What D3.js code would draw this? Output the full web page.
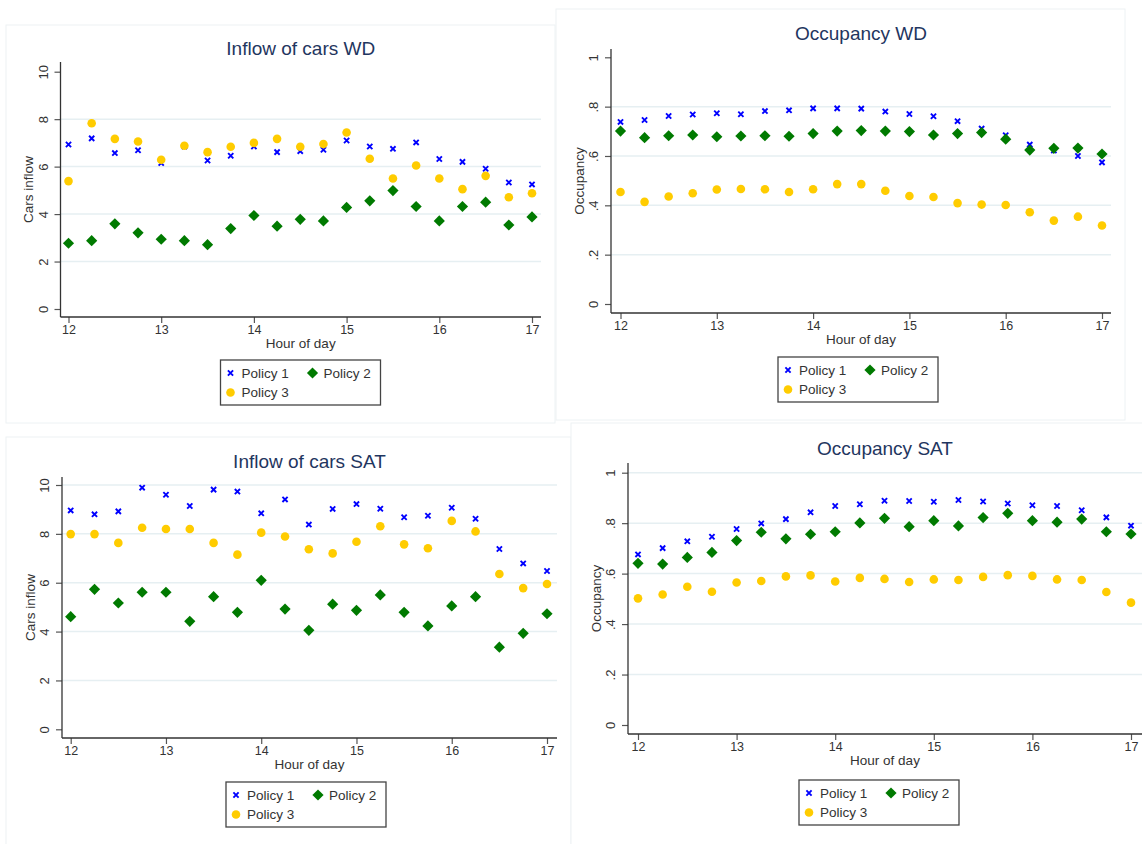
<!DOCTYPE html>
<html>
<head>
<meta charset="utf-8">
<script src="https://cdn.jsdelivr.net/npm/d3@7"></script>
<style>
  body { margin: 0; background: #fff; }
  svg { display: block; font-family: "Liberation Sans", Arial, sans-serif; }
</style>
</head>
<body>
<div id="chart"></div>
<script>
// hours (x values shared by every panel)
var hours = [12, 12.25, 12.5, 12.75, 13, 13.25, 13.5, 13.75, 14, 14.25, 14.5,
	14.75, 15, 15.25, 15.5, 15.75, 16, 16.25, 16.5, 16.75, 17];
var hourTicks = [12, 13, 14, 15, 16, 17];
var policies = ['Policy 1', 'Policy 2', 'Policy 3'];

// inflow of cars, weekday
var inflowWD1 = [6.93, 7.19, 6.57, 6.69, 6.15, 6.85, 6.26, 6.46, 6.85, 6.61, 6.65,
	6.71, 7.10, 6.85, 6.75, 7.02, 6.32, 6.20, 5.91, 5.33, 5.25];
var inflowWD2 = [2.77, 2.88, 3.59, 3.21, 2.94, 2.88, 2.71, 3.39, 3.94, 3.49, 3.78,
	3.71, 4.28, 4.56, 4.99, 4.32, 3.71, 4.32, 4.50, 3.54, 3.88];
var inflowWD3 = [5.39, 7.83, 7.17, 7.06, 6.29, 6.88, 6.61, 6.84, 7.00, 7.17, 6.84,
	6.95, 7.44, 6.33, 5.50, 6.05, 5.50, 5.05, 5.61, 4.71, 4.88];

// occupancy, weekday
var occWD1 = [0.738, 0.746, 0.762, 0.768, 0.773, 0.769, 0.782, 0.785, 0.793, 0.793, 0.792,
	0.780, 0.770, 0.761, 0.741, 0.711, 0.684, 0.646, 0.622, 0.600, 0.574];
var occWD2 = [0.701, 0.674, 0.682, 0.685, 0.678, 0.681, 0.682, 0.680, 0.691, 0.701, 0.703,
	0.701, 0.699, 0.685, 0.691, 0.695, 0.668, 0.624, 0.631, 0.632, 0.608];
var occWD3 = [0.454, 0.414, 0.436, 0.449, 0.464, 0.466, 0.465, 0.454, 0.465, 0.486, 0.486,
	0.459, 0.438, 0.434, 0.409, 0.403, 0.401, 0.372, 0.338, 0.354, 0.318];

// inflow of cars, saturday
var inflowSAT1 = [8.96, 8.80, 8.92, 9.89, 9.60, 9.14, 9.81, 9.73, 8.84, 9.41, 8.38,
	9.02, 9.22, 9.03, 8.68, 8.74, 9.07, 8.62, 7.38, 6.79, 6.48];
var inflowSAT2 = [4.61, 5.73, 5.17, 5.61, 5.61, 4.42, 5.43, 4.79, 6.10, 4.92, 4.05,
	5.12, 4.87, 5.50, 4.79, 4.23, 5.05, 5.43, 3.36, 3.93, 4.73];
var inflowSAT3 = [7.99, 7.99, 7.63, 8.25, 8.20, 8.20, 7.63, 7.15, 8.05, 7.89, 7.37,
	7.20, 7.68, 8.31, 7.57, 7.41, 8.53, 8.10, 6.36, 5.78, 5.95];

// occupancy, saturday
var occSAT1 = [0.676, 0.701, 0.728, 0.746, 0.777, 0.799, 0.816, 0.843, 0.868, 0.875, 0.889,
	0.888, 0.885, 0.892, 0.886, 0.878, 0.871, 0.868, 0.851, 0.823, 0.790];
var occSAT2 = [0.641, 0.638, 0.664, 0.684, 0.731, 0.764, 0.738, 0.756, 0.766, 0.801, 0.819,
	0.786, 0.810, 0.789, 0.822, 0.839, 0.810, 0.804, 0.816, 0.766, 0.757];
var occSAT3 = [0.502, 0.517, 0.548, 0.528, 0.565, 0.571, 0.589, 0.593, 0.569, 0.583, 0.579,
	0.567, 0.577, 0.575, 0.587, 0.594, 0.591, 0.577, 0.575, 0.527, 0.485];

var inflowTicks = [0, 2, 4, 6, 8, 10];
var inflowTickLabels = ['0', '2', '4', '6', '8', '10'];
var occTicks = [0, 0.2, 0.4, 0.6, 0.8, 1];
var occTickLabels = ['0', '.2', '.4', '.6', '.8', '1'];

var colors = ['#0000ff', '#007a00', '#ffcc00'];

var svg = d3.select('#chart')
	.append('svg')
	.attr('width', 1142)
	.attr('height', 844);

// panel layouts (pixels)
var panels = [
	{title: 'Inflow of cars WD', ylab: 'Cars inflow', series: [inflowWD1, inflowWD2, inflowWD3],
		ymax: 10, ticks: inflowTicks, tickLabels: inflowTickLabels, grid: [2, 4, 6, 8],
		frame: [6, 25, 555, 423], x: [68.5, 532], y: [309, 71.7], axisX: 60.5, axisY: 317,
		top: 62, right: 541, titleY: 55, legend: [220.5, 360]},
	{title: 'Occupancy WD', ylab: 'Occupancy', series: [occWD1, occWD2, occWD3],
		ymax: 1, ticks: occTicks, tickLabels: occTickLabels, grid: [0.2, 0.4, 0.6, 0.8],
		frame: [556, 9, 1125, 420], x: [620.5, 1102], y: [304, 57.3], axisX: 611, axisY: 313,
		top: 49, right: 1111, titleY: 40, legend: [778, 357]},
	{title: 'Inflow of cars SAT', ylab: 'Cars inflow', series: [inflowSAT1, inflowSAT2, inflowSAT3],
		ymax: 10, ticks: inflowTicks, tickLabels: inflowTickLabels, grid: [2, 4, 6, 8, 10],
		frame: [6, 437, 571, 850], x: [70.7, 547], y: [729.3, 485], axisX: 62, axisY: 738,
		top: 477, right: 557, titleY: 468, legend: [226, 782]},
	{title: 'Occupancy SAT', ylab: 'Occupancy', series: [occSAT1, occSAT2, occSAT3],
		ymax: 1, ticks: occTicks, tickLabels: occTickLabels, grid: [0.2, 0.4, 0.6, 0.8, 1],
		frame: [571, 423, 1150, 850], x: [638, 1131], y: [725, 472.7], axisX: 628, axisY: 734,
		top: 463, right: 1142, titleY: 455, legend: [799, 780]}
];

function drawMarker(g, type, cx, cy) {
	if (type === 0) {
		var s = 2.6;
		g.append('path')
			.attr('d', 'M' + (cx - s) + ',' + (cy - s) + 'L' + (cx + s) + ',' + (cy + s) +
				'M' + (cx - s) + ',' + (cy + s) + 'L' + (cx + s) + ',' + (cy - s))
			.attr('stroke', colors[0])
			.attr('stroke-width', 1.9)
			.attr('fill', 'none');
	} else if (type === 1) {
		var d = 5.6;
		g.append('path')
			.attr('d', 'M' + cx + ',' + (cy - d) + 'L' + (cx + d) + ',' + cy + 'L' + cx + ',' +
				(cy + d) + 'L' + (cx - d) + ',' + cy + 'Z')
			.attr('fill', colors[1]);
	} else {
		g.append('circle')
			.attr('cx', cx)
			.attr('cy', cy)
			.attr('r', 4.3)
			.attr('fill', colors[2]);
	}
}

panels.forEach(function(p) {
	var g = svg.append('g');

	g.append('rect')
		.attr('x', p.frame[0])
		.attr('y', p.frame[1])
		.attr('width', p.frame[2] - p.frame[0])
		.attr('height', p.frame[3] - p.frame[1])
		.attr('fill', '#fff')
		.attr('stroke', '#edf2f4')
		.attr('stroke-width', 1);

	var x = d3.scaleLinear().domain([12, 17]).range(p.x);
	var y = d3.scaleLinear().domain([0, p.ymax]).range(p.y);

	// gridlines
	g.selectAll('.grid')
		.data(p.grid)
		.enter()
		.append('line')
		.attr('x1', p.axisX)
		.attr('x2', p.right)
		.attr('y1', function(d) { return y(d); })
		.attr('y2', function(d) { return y(d); })
		.attr('stroke', '#e6eff2')
		.attr('stroke-width', 1.5);

	// axes
	var yAxis = d3.axisLeft(y)
		.tickValues(p.ticks)
		.tickFormat(function(d, i) { return p.tickLabels[i]; })
		.tickSize(6)
		.tickPadding(0);
	var ya = g.append('g')
		.attr('transform', 'translate(' + p.axisX + ',0)')
		.call(yAxis);
	ya.select('.domain').remove();
	ya.append('line')
		.attr('x1', 0).attr('x2', 0)
		.attr('y1', p.top).attr('y2', p.axisY)
		.attr('stroke', '#333').attr('stroke-width', 1.3);
	ya.selectAll('.tick line').attr('stroke', '#555').attr('stroke-width', 1.2);
	ya.selectAll('.tick text')
		.attr('x', null).attr('dy', null)
		.attr('text-anchor', 'middle')
		.attr('transform', 'translate(-17.5,0) rotate(-90)')
		.attr('dy', '0.35em')
		.attr('fill', '#333')
		.style('font-size', '13px');

	var xAxis = d3.axisBottom(x)
		.tickValues(hourTicks)
		.tickFormat(d3.format('d'))
		.tickSize(6)
		.tickPadding(2);
	var xa = g.append('g')
		.attr('transform', 'translate(0,' + p.axisY + ')')
		.call(xAxis);
	xa.select('.domain').remove();
	xa.append('line')
		.attr('x1', p.axisX).attr('x2', p.right)
		.attr('y1', 0).attr('y2', 0)
		.attr('stroke', '#333').attr('stroke-width', 1.3);
	xa.selectAll('.tick line').attr('stroke', '#555').attr('stroke-width', 1.2);
	xa.selectAll('.tick text')
		.attr('fill', '#333')
		.style('font-size', '12.5px');
	xa.selectAll('text').attr('font-family', null);
	ya.selectAll('text').attr('font-family', null);

	// markers, in series order
	p.series.forEach(function(vals, s) {
		for (var i = 0; i < hours.length; i++) {
			drawMarker(g, s, x(hours[i]), y(vals[i]));
		}
	});

	var cx = (p.axisX + p.right) / 2;

	g.append('text')
		.attr('x', cx)
		.attr('y', p.titleY)
		.attr('text-anchor', 'middle')
		.attr('fill', '#1f3660')
		.style('font-size', '19px')
		.text(p.title);

	g.append('text')
		.attr('x', cx)
		.attr('y', p.axisY + 31)
		.attr('text-anchor', 'middle')
		.attr('fill', '#333')
		.style('font-size', '13.5px')
		.text('Hour of day');

	g.append('text')
		.attr('transform', 'translate(' + (p.axisX - 32) + ',' + ((p.axisY + p.top) / 2) + ') rotate(-90)')
		.attr('text-anchor', 'middle')
		.attr('dy', '0.35em')
		.attr('fill', '#333')
		.style('font-size', '13.5px')
		.text(p.ylab);

	// legend
	var lx = p.legend[0], ly = p.legend[1];
	var lg = g.append('g');
	lg.append('rect')
		.attr('x', lx).attr('y', ly)
		.attr('width', 160).attr('height', 45)
		.attr('fill', '#fff')
		.attr('stroke', '#444')
		.attr('stroke-width', 1.3);
	var spots = [[10, 13], [92, 13], [10, 32.5]];
	policies.forEach(function(name, k) {
		drawMarker(lg, k, lx + spots[k][0], ly + spots[k][1]);
		lg.append('text')
			.attr('x', lx + spots[k][0] + 11)
			.attr('y', ly + spots[k][1])
			.attr('dy', '0.36em')
			.attr('fill', '#333')
			.style('font-size', '13.5px')
			.text(name);
	});
});
</script>
</body>
</html>
